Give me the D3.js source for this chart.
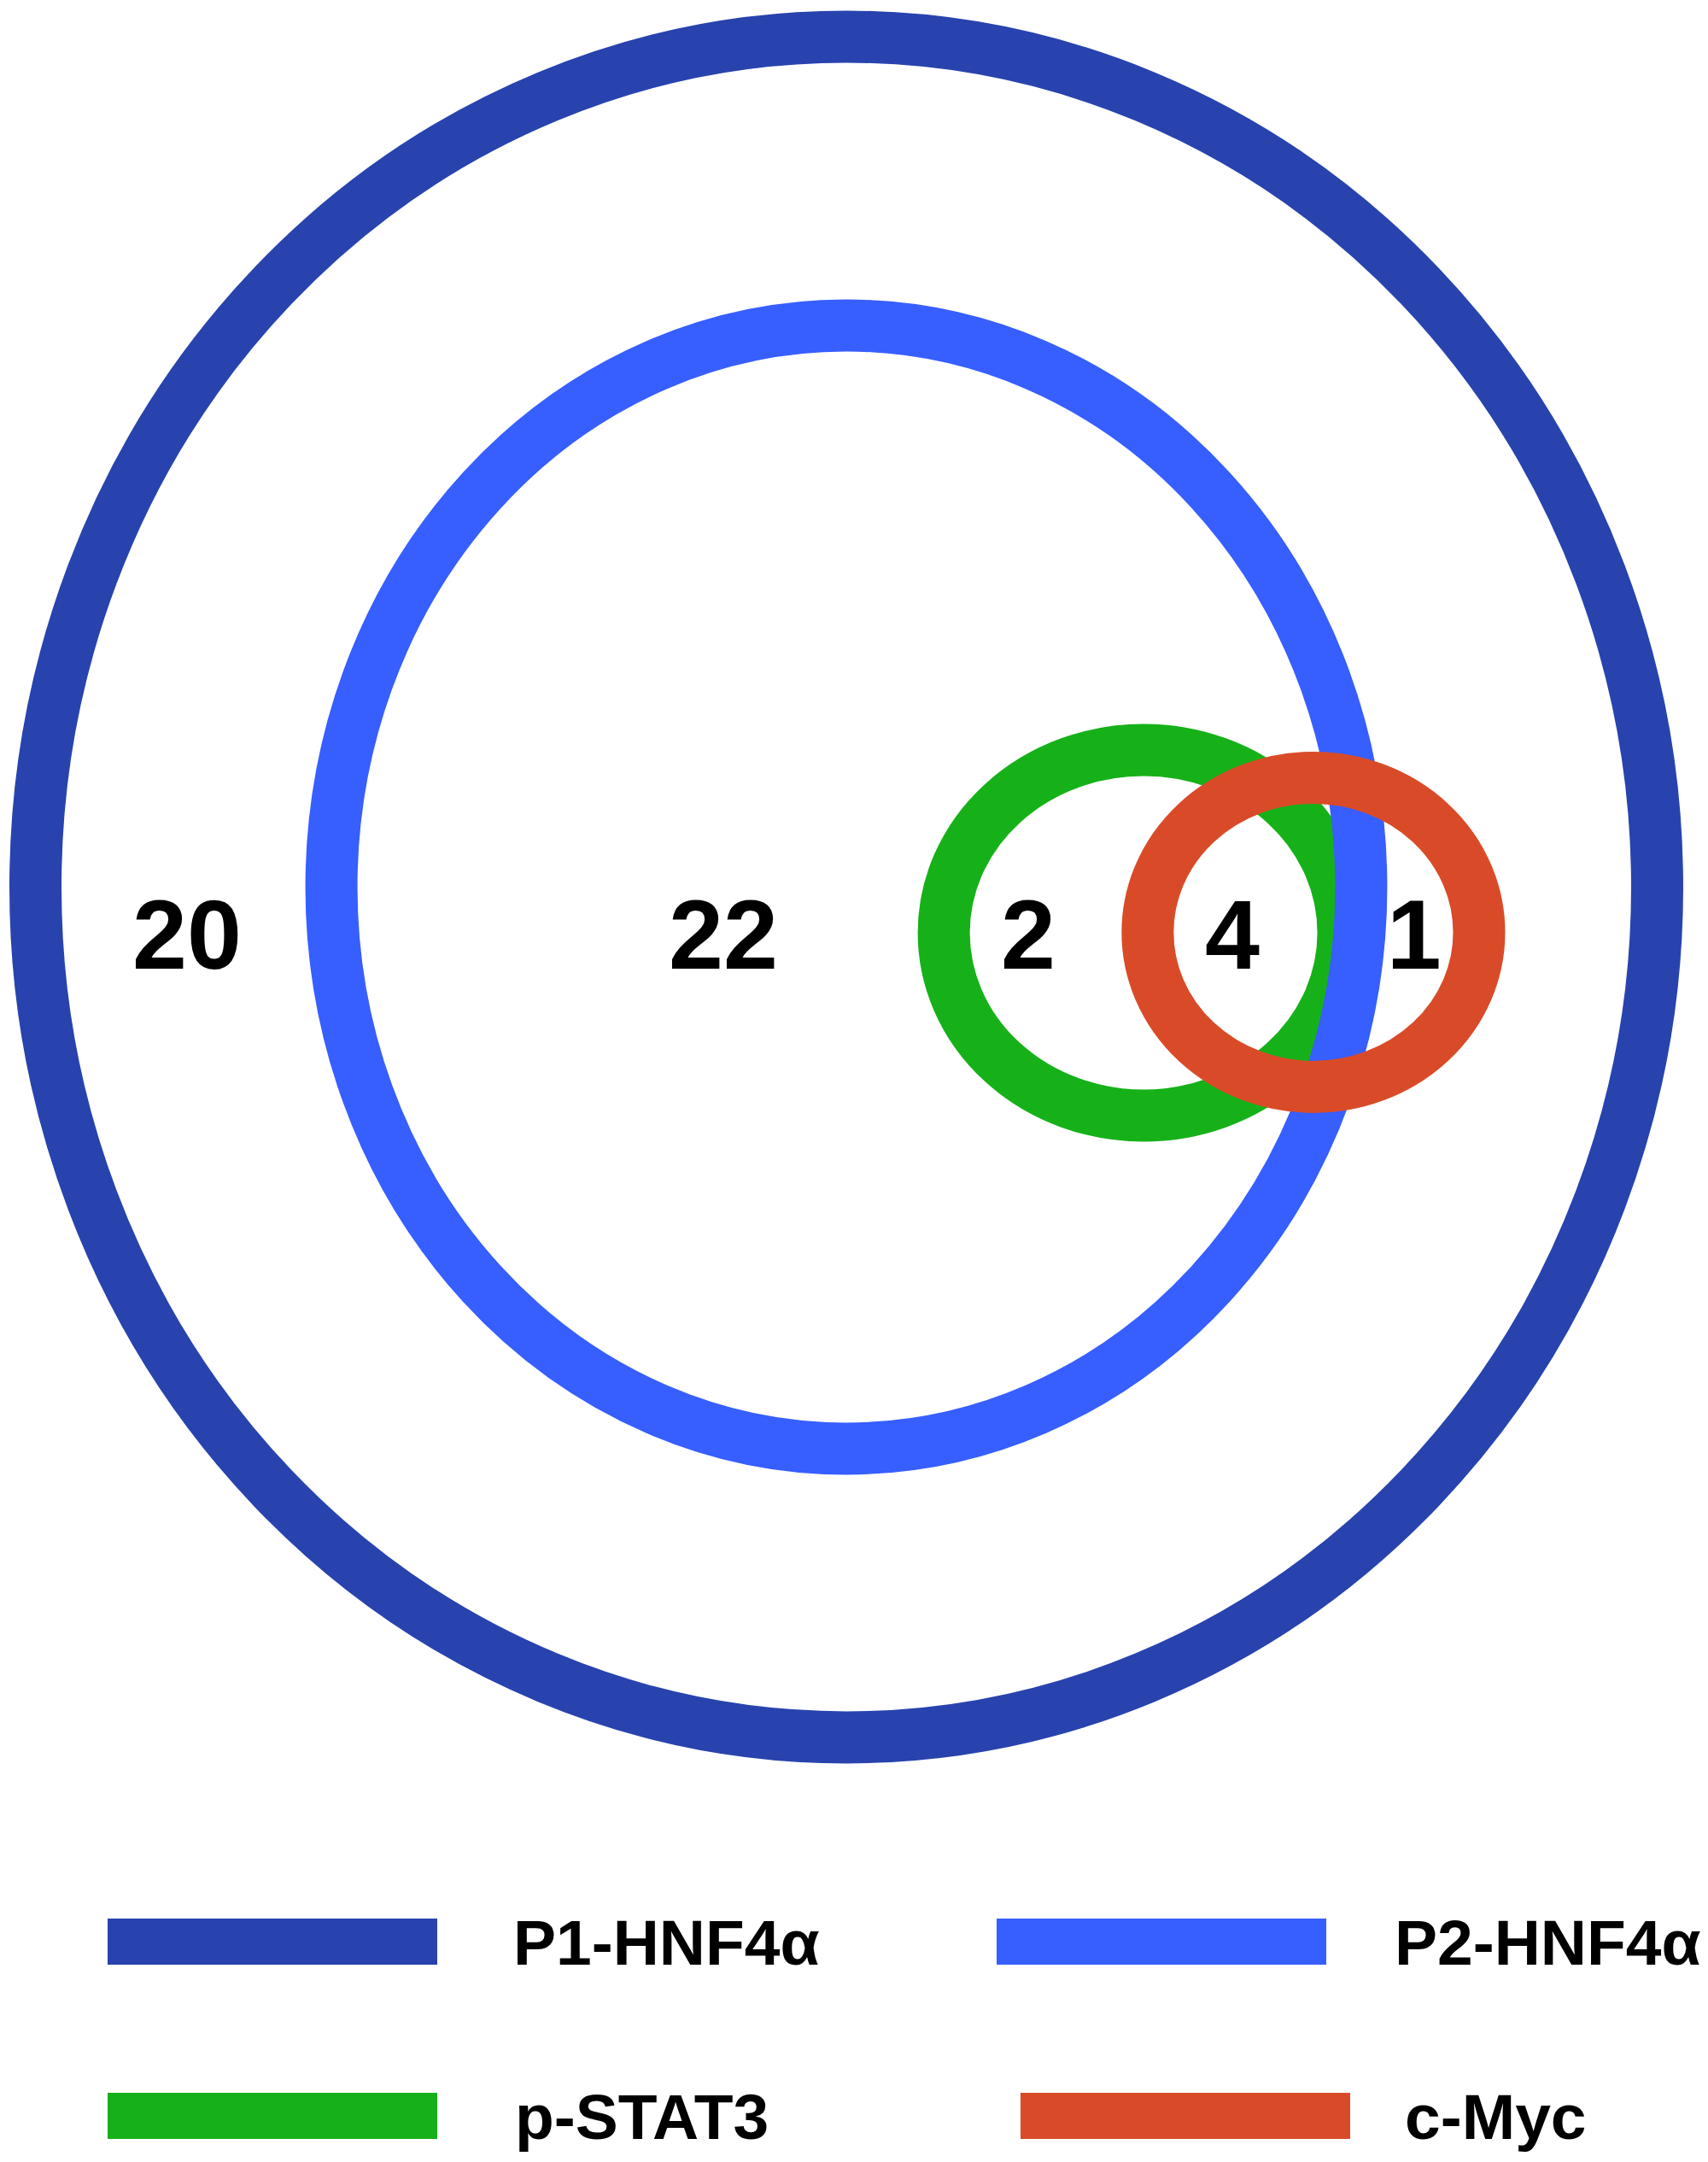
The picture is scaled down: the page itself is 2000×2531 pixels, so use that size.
<!DOCTYPE html>
<html>
<head>
<meta charset="utf-8">
<script src="https://cdn.jsdelivr.net/npm/d3@7"></script>
<style>
  html, body { margin: 0; padding: 0; background: #fff; }
  svg { display: block; }
</style>
</head>
<body>
<svg id="venn"></svg>
<script>
const svgWidth = 2000;
const svgHeight = 2531;

// sets and their colours
const setNames = ["P1-HNF4α", "P2-HNF4α", "p-STAT3", "c-Myc"];
const setColors = ["#2843ae", "#375eff", "#16b119", "#d94b28"];

// region counts, left to right
const regionCounts = [20, 22, 2, 4, 1];

// ellipse layout in diagram units (0..100 spans P1 horizontally)
const ellipseLayout = [
    {cx: 50.0,  cy: 52.42, rx: 50.0,  ry: 52.42},
    {cx: 50.0,  cy: 52.42, rx: 31.75, ry: 34.62},
    {cx: 68.33, cy: 55.24, rx: 12.32, ry: 11.27},
    {cx: 78.80, cy: 55.21, rx: 10.22, ry: 9.53}
];
const drawOrder = [0, 2, 1, 3]; // green sits under P2, red on top
const regionX = [9.35, 42.42, 61.21, 73.80, 85.0];
const regionBaseline = 57.45;

const strokeW = 61;

const x = d3.scaleLinear().domain([0, 100]).range([41.5, 1940.5]);
const y = d3.scaleLinear().domain([0, 100]).range([43, 43 + 1899]);
const k = x(1) - x(0);

const svg = d3.select('#venn')
    .attr('width', svgWidth)
    .attr('height', svgHeight);

svg.append('g')
    .selectAll('ellipse')
    .data(drawOrder)
    .join('ellipse')
    .attr('cx', i => x(ellipseLayout[i].cx))
    .attr('cy', i => y(ellipseLayout[i].cy))
    .attr('rx', i => ellipseLayout[i].rx * k)
    .attr('ry', i => ellipseLayout[i].ry * k)
    .attr('fill', 'none')
    .attr('stroke', i => setColors[i])
    .attr('stroke-width', strokeW);

svg.append('g')
    .selectAll('text')
    .data(regionCounts)
    .join('text')
    .attr('x', (d, i) => x(regionX[i]))
    .attr('y', y(regionBaseline))
    .attr('text-anchor', 'middle')
    .attr('font-family', '"Liberation Sans", Arial, Helvetica, sans-serif')
    .attr('font-weight', 'bold')
    .attr('font-size', 115)
    .attr('fill', '#000')
    .text(d => d);

// legend
const legendBar = {w: 386, h: 54};
const legendPos = [
    {bx: 126,  by: 2246, tx: 601},
    {bx: 1167, by: 2246, tx: 1633},
    {bx: 126,  by: 2450, tx: 603},
    {bx: 1195, by: 2450, tx: 1645}
];

const legend = svg.append('g')
    .selectAll('g')
    .data(setNames)
    .join('g');

legend.append('rect')
    .attr('x', (d, i) => legendPos[i].bx)
    .attr('y', (d, i) => legendPos[i].by)
    .attr('width', legendBar.w)
    .attr('height', legendBar.h)
    .attr('fill', (d, i) => setColors[i]);

legend.append('text')
    .attr('x', (d, i) => legendPos[i].tx)
    .attr('y', (d, i) => legendPos[i].by + legendBar.h)
    .attr('font-family', '"Liberation Sans", Arial, Helvetica, sans-serif')
    .attr('font-weight', 'bold')
    .attr('font-size', 75)
    .attr('fill', '#000')
    .text(d => d);
</script>
</body>
</html>
